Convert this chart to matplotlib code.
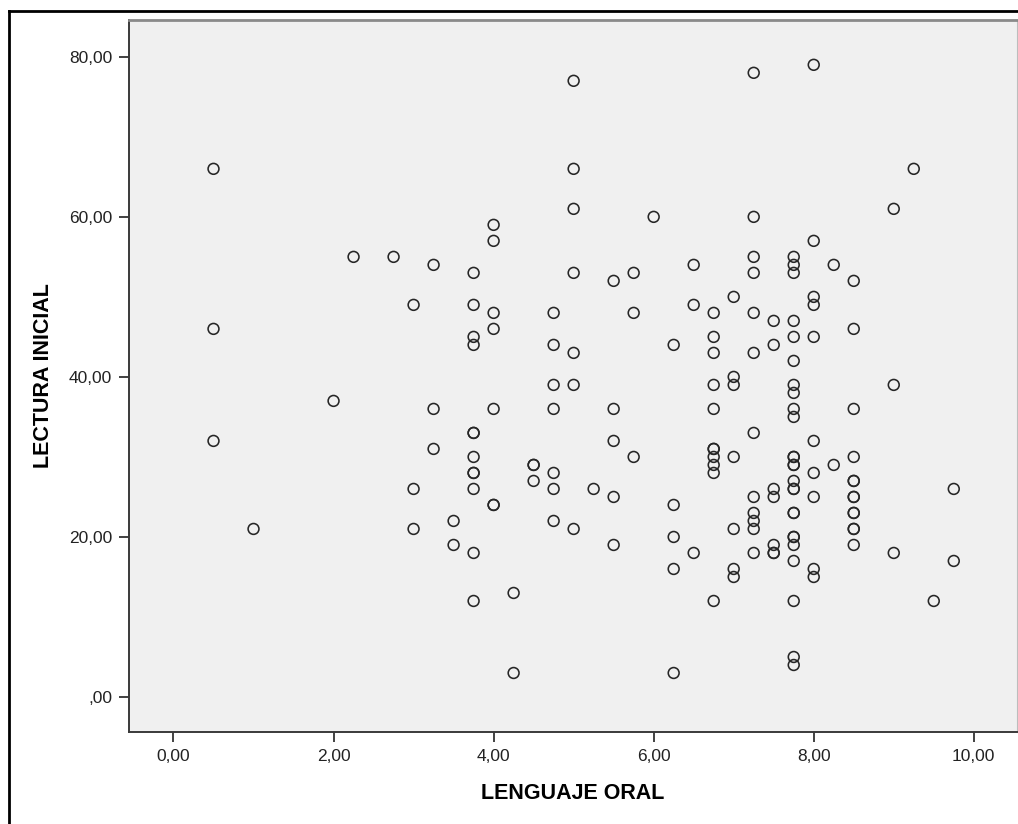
import matplotlib
matplotlib.use("Agg")
import matplotlib.pyplot as plt
from matplotlib.lines import Line2D

plt.rcParams['font.family'] = ['Liberation Sans', 'DejaVu Sans']

# LENGUAJE ORAL -> list of LECTURA INICIAL values at that x
x_vals = [0.5, 1.0, 2.0, 2.25, 2.75, 3.0, 3.25, 3.5, 3.75, 4.0, 4.25, 4.5,
          4.75, 5.0, 5.25, 5.5, 5.75, 6.0, 6.25, 6.5, 6.75, 7.0, 7.25, 7.5,
          7.75, 8.0, 8.25, 8.5, 9.0, 9.25, 9.5, 9.75]
y_groups = [
    [66, 46, 32],
    [21],
    [37],
    [55],
    [55],
    [49, 26, 21],
    [54, 36, 31],
    [22, 19],
    [53, 49, 45, 44, 33, 33, 30, 28, 28, 26, 18, 12],
    [59, 57, 48, 46, 36, 24, 24],
    [13, 3],
    [29, 29, 27],
    [48, 44, 39, 36, 28, 26, 22],
    [77, 66, 61, 53, 43, 39, 21],
    [26],
    [52, 36, 32, 25, 19],
    [53, 48, 30],
    [60],
    [44, 24, 20, 16, 3],
    [54, 49, 18],
    [48, 45, 43, 39, 36, 31, 31, 30, 29, 28, 12],
    [50, 40, 39, 30, 21, 16, 15],
    [78, 60, 55, 53, 48, 43, 33, 25, 23, 22, 21, 18],
    [47, 44, 26, 25, 19, 18, 18],
    [55, 54, 53, 47, 45, 42, 39, 38, 36, 35, 30, 30, 29, 29, 27, 26, 26,
     23, 23, 20, 20, 19, 17, 12, 5, 4],
    [79, 57, 50, 49, 45, 32, 28, 25, 16, 15],
    [54, 29],
    [52, 46, 36, 30, 27, 27, 25, 25, 23, 23, 21, 21, 19],
    [61, 39, 18],
    [66],
    [12],
    [26, 17],
]

xticks = [0, 2, 4, 6, 8, 10]
xtick_labels = ['0,00', '2,00', '4,00', '6,00', '8,00', '10,00']
yticks = [0, 20, 40, 60, 80]
ytick_labels = [',00', '20,00', '40,00', '60,00', '80,00']

xs = []
ys = []
for xv, group in zip(x_vals, y_groups):
    for yv in group:
        xs.append(xv)
        ys.append(yv)

fig = plt.figure(figsize=(10.18, 8.24), dpi=100)
ax = fig.add_axes([129 / 1018, 1 - 732 / 824, 888 / 1018, 712 / 824])
ax.set_facecolor('#f0f0f0')

ax.scatter(xs, ys, s=7.8 ** 2, facecolors='none', edgecolors='#262626',
           linewidths=1.15, zorder=3)

ax.set_xlim(-0.556, 10.54)
ax.set_ylim(-4.375, 84.6)
ax.set_xticks(xticks)
ax.set_xticklabels(xtick_labels)
ax.set_yticks(yticks)
ax.set_yticklabels(ytick_labels)
ax.tick_params(axis='both', direction='out', length=7, width=1.3,
               color='#333333', labelsize=12.5, labelcolor='#222222', pad=5)

ax.spines['left'].set_color('#3a3a3a')
ax.spines['bottom'].set_color('#3a3a3a')
ax.spines['left'].set_linewidth(1.4)
ax.spines['bottom'].set_linewidth(1.4)
ax.spines['top'].set_color('#8a8a8a')
ax.spines['top'].set_linewidth(2)
ax.spines['right'].set_color('#bdbdbd')

ax.set_xlabel('LENGUAJE ORAL', fontsize=15.5, fontweight='bold', labelpad=14)
ax.set_ylabel('LECTURA INICIAL', fontsize=15.5, fontweight='bold')
ax.yaxis.label.set_va('center')
ax.yaxis.set_label_coords((44 - 129) / 888, 0.5)

# outer frame (only left and top edges visible)
fig.add_artist(Line2D([9 / 1018, 9 / 1018], [0, 1 - 11 / 824],
                      transform=fig.transFigure, color='black', lw=2))
fig.add_artist(Line2D([9 / 1018, 1], [1 - 11 / 824, 1 - 11 / 824],
                      transform=fig.transFigure, color='black', lw=2))

fig.savefig('out.png', dpi=100)
